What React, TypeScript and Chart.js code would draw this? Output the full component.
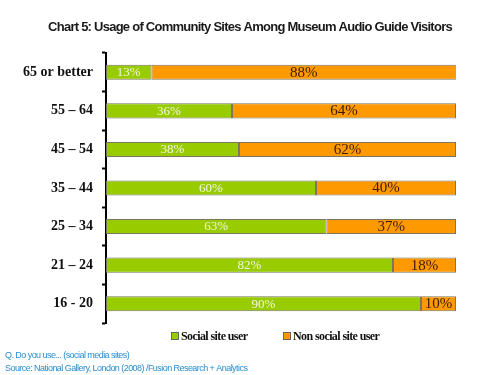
import React, { useEffect, useRef } from "react";
import { Chart, registerables } from "chart.js";

Chart.register(...registerables);

const categories = ["65 or better", "55 – 64", "45 – 54", "35 – 44", "25 – 34", "21 – 24", "16 - 20"];
const socialUser = [13, 36, 38, 60, 63, 82, 90];
const nonSocialUser = [88, 64, 62, 40, 37, 18, 10];
const seriesNames = ["Social site user", "Non social site user"];
const titleText = "Chart 5: Usage of Community Sites Among Museum Audio Guide Visitors";
const footnotes = ["Q. Do you use... (social media sites)", "Source: National Gallery, London (2008) /Fusion Research + Analytics"];

const GREEN = "#99cc00";
const ORANGE = "#ff9900";
const EDGE = "#7d7560";

const overlay = {
  id: "overlay",
  afterDatasetsDraw(chart: any) {
    const ctx = chart.ctx;
    ctx.save();
    chart.data.datasets.forEach((ds: any, di: number) => {
      const meta = chart.getDatasetMeta(di);
      meta.data.forEach((el: any, i: number) => {
        const left = Math.min(el.base, el.x);
        const right = Math.min(Math.max(el.base, el.x), chart.chartArea.right);
        const cx = (left + right) / 2;
        ctx.textAlign = "center";
        ctx.textBaseline = "middle";
        if (di === 0) {
          ctx.fillStyle = "#f4f6e0";
          ctx.font = "13px 'Liberation Serif', serif";
        } else {
          ctx.fillStyle = "#3a1c08";
          ctx.font = "15px 'Liberation Serif', serif";
        }
        ctx.fillText(ds.data[i] + "%", cx, el.y + 0.5);
      });
    });
    ctx.restore();
  },
  afterDraw(chart: any) {
    const ctx = chart.ctx;
    ctx.save();
    ctx.fillStyle = "#1a1a1a";
    ctx.font = "bold 13px 'Liberation Sans', Arial, sans-serif";
    (ctx as any).letterSpacing = "-0.75px";
    ctx.textAlign = "center";
    ctx.textBaseline = "middle";
    ctx.fillText(titleText, 250, 27);
    const items = [
      { x: 171, color: GREEN, label: chart.data.datasets[0].label },
      { x: 283, color: ORANGE, label: chart.data.datasets[1].label },
    ];
    ctx.font = "bold 12px 'Liberation Serif', serif";
    (ctx as any).letterSpacing = "-0.6px";
    ctx.textAlign = "left";
    items.forEach((it) => {
      ctx.fillStyle = it.color;
      ctx.fillRect(it.x, 332, 8, 8);
      ctx.strokeStyle = "#666";
      ctx.lineWidth = 1;
      ctx.strokeRect(it.x + 0.5, 332.5, 7, 7);
      ctx.fillStyle = "#111";
      ctx.fillText(it.label, it.x + 10, 337);
    });
    ctx.fillStyle = "#2a8dd0";
    ctx.font = "9px 'Liberation Sans', Arial, sans-serif";
    (ctx as any).letterSpacing = "-0.55px";
    ctx.fillText(footnotes[0], 5, 356);
    ctx.fillText(footnotes[1], 5, 369);
    ctx.restore();
  },
};

export default function App() {
  const ref = useRef<HTMLCanvasElement>(null);
  useEffect(() => {
    const mk = (label: string, data: number[], color: string) => ({
      label,
      data,
      backgroundColor: color,
      borderColor: EDGE,
      borderWidth: 1,
      borderSkipped: false,
      categoryPercentage: 1,
      barPercentage: 0.39,
      clip: 0,
    });
    const chart = new Chart(ref.current as HTMLCanvasElement, {
      type: "bar",
      data: {
        labels: categories,
        datasets: [mk(seriesNames[0], socialUser, GREEN), mk(seriesNames[1], nonSocialUser, ORANGE)],
      },
      options: {
        indexAxis: "y",
        responsive: false,
        animation: false,
        devicePixelRatio: 1,
        layout: { padding: { left: 15, top: 53, right: 44, bottom: 52 } },
        plugins: {
          legend: { display: false },
          title: { display: false },
          tooltip: { enabled: false },
        },
        scales: {
          x: { stacked: true, min: 0, max: 100, display: false },
          y: {
            stacked: true,
            afterFit: (s: any) => {
              s.width = 91;
            },
            border: { display: true, color: "#000", width: 2 },
            grid: {
              display: true,
              drawOnChartArea: false,
              drawTicks: true,
              tickLength: 4,
              tickWidth: 2,
              tickColor: "#000",
              offset: true,
            },
            ticks: {
              color: "#111",
              padding: 9,
              font: { family: "'Liberation Serif', serif", size: 14, weight: "bold" },
            },
          },
        },
      },
      plugins: [overlay],
    } as any);
    return () => chart.destroy();
  }, []);
  return (
    <div style={{ position: "absolute", left: 0, top: 0, width: 500, height: 375, background: "#fff" }}>
      <canvas ref={ref} width={500} height={375} style={{ display: "block" }} />
    </div>
  );
}
